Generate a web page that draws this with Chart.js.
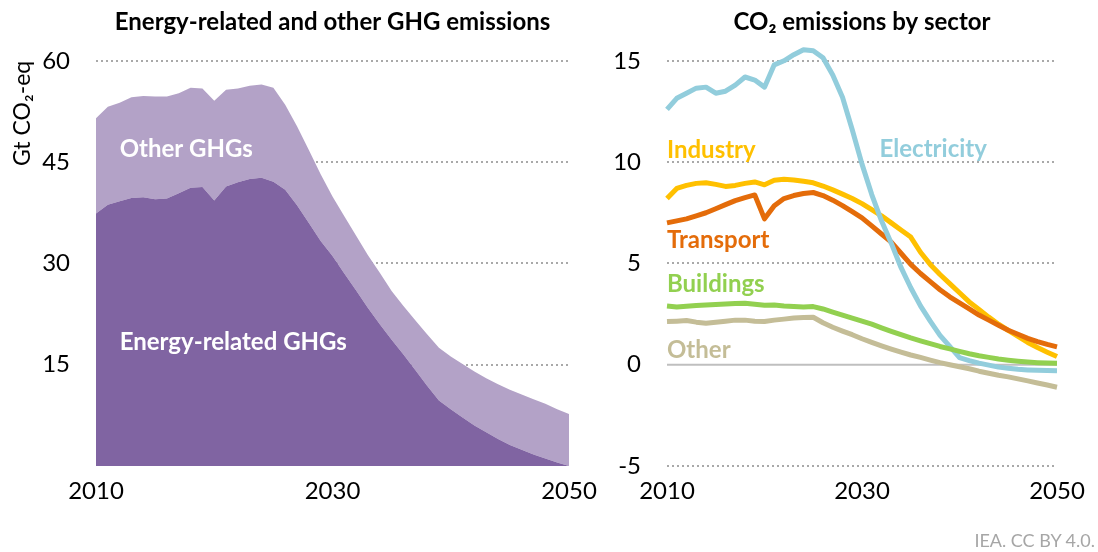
<!DOCTYPE html>
<html>
<head>
<meta charset="utf-8">
<script src="https://cdn.jsdelivr.net/npm/chart.js@4.4.1/dist/chart.umd.min.js"></script>
<style>
  html, body { margin: 0; padding: 0; background: #fff; }
  #wrap { position: relative; width: 1098px; height: 552px; overflow: hidden; }
  #left { position: absolute; left: 0; top: 0; width: 610px; height: 552px; }
  #right { position: absolute; left: 560px; top: 0; width: 538px; height: 552px; }
  #source { position: absolute; right: 3px; bottom: 1px; font: 18px Lato, sans-serif; color: #a6a6a6; }
</style>
</head>
<body>
<div id="wrap">
  <div id="left"><canvas id="ghg-chart"></canvas></div>
  <div id="right"><canvas id="sector-chart"></canvas></div>
  <div id="source">IEA. CC BY 4.0.</div>
</div>
<script>
var years = [2010, 2011, 2012, 2013, 2014, 2015, 2016, 2017, 2018, 2019,
  2020, 2021, 2022, 2023, 2024, 2025, 2026, 2027, 2028, 2029,
  2030, 2031, 2032, 2033, 2034, 2035, 2036, 2037, 2038, 2039,
  2040, 2041, 2042, 2043, 2044, 2045, 2046, 2047, 2048, 2049, 2050];

// left panel, Gt CO2-eq (stacked)
var energyGhg = [37.4, 38.7, 39.2, 39.7, 39.8, 39.5, 39.6, 40.4, 41.2, 41.3,
  39.3, 41.4, 42.0, 42.5, 42.7, 42.1, 40.9, 38.6, 36.0, 33.3,
  31.1, 28.5, 26.0, 23.4, 21.0, 18.7, 16.5, 14.2, 11.9, 9.7,
  8.4, 7.2, 6.0, 5.0, 4.0, 3.1, 2.4, 1.7, 1.1, 0.5, 0.0];
var otherGhg = [14.1, 14.5, 14.6, 14.9, 15.0, 15.2, 15.1, 14.8, 14.8, 14.6,
  14.8, 14.3, 13.9, 13.8, 13.8, 13.9, 12.6, 11.7, 10.8, 9.9,
  8.8, 8.5, 8.1, 7.8, 7.6, 7.2, 7.2, 7.4, 7.6, 7.8,
  7.8, 7.9, 8.0, 8.0, 8.1, 8.2, 8.2, 8.2, 8.1, 7.9, 7.7];

// right panel, Gt CO2
var electricity = [12.6, 13.15, 13.4, 13.65, 13.7, 13.4, 13.5, 13.8, 14.2, 14.05,
  13.7, 14.8, 15.0, 15.3, 15.55, 15.5, 15.15, 14.3, 13.2, 11.6,
  9.9, 8.4, 7.1, 6.0, 4.8, 3.8, 2.9, 2.15, 1.45, 0.9,
  0.35, 0.2, 0.08, -0.02, -0.12, -0.18, -0.23, -0.26, -0.28, -0.29, -0.3];
var industry = [8.2, 8.7, 8.85, 8.95, 8.98, 8.9, 8.8, 8.85, 8.95, 9.02,
  8.88, 9.1, 9.15, 9.12, 9.05, 8.98, 8.82, 8.63, 8.42, 8.2,
  7.95, 7.65, 7.35, 7.0, 6.65, 6.3, 5.55, 4.95, 4.45, 4.0,
  3.55, 3.1, 2.73, 2.35, 2.0, 1.7, 1.4, 1.1, 0.85, 0.62, 0.4];
var transport = [7.0, 7.1, 7.2, 7.35, 7.5, 7.7, 7.9, 8.1, 8.25, 8.38,
  7.2, 7.85, 8.2, 8.35, 8.45, 8.5, 8.35, 8.12, 7.85, 7.55,
  7.25, 6.85, 6.45, 6.05, 5.5, 4.95, 4.5, 4.1, 3.7, 3.35,
  3.05, 2.75, 2.45, 2.2, 1.95, 1.7, 1.5, 1.3, 1.14, 1.0, 0.88];
var buildings = [2.9, 2.85, 2.88, 2.92, 2.95, 2.97, 3.0, 3.02, 3.03, 2.98,
  2.93, 2.95, 2.9, 2.87, 2.85, 2.87, 2.75, 2.6, 2.45, 2.3,
  2.15, 2.0, 1.82, 1.65, 1.48, 1.32, 1.18, 1.04, 0.9, 0.78,
  0.66, 0.54, 0.44, 0.36, 0.28, 0.22, 0.17, 0.13, 0.1, 0.08, 0.07];
var otherSector = [2.13, 2.15, 2.18, 2.1, 2.05, 2.1, 2.15, 2.2, 2.2, 2.15,
  2.13, 2.2, 2.25, 2.3, 2.33, 2.34, 2.07, 1.85, 1.66, 1.48,
  1.28, 1.1, 0.93, 0.77, 0.62, 0.48, 0.36, 0.23, 0.1, 0.0,
  -0.1, -0.2, -0.32, -0.42, -0.52, -0.6, -0.7, -0.8, -0.9, -1.0, -1.11];

var xTicks = [2010, 2030, 2050];
var ghgTicks = [15, 30, 45, 60];
var sectorTicks = [-5, 0, 5, 10, 15];

Chart.defaults.font.family = "Lato, 'Open Sans', sans-serif";
Chart.defaults.color = "#000";

// labels written straight on the plot, placed in data units
var inlineLabels = {
  id: "inlineLabels",
  afterDatasetsDraw: function (chart, args, opts) {
    var ctx = chart.ctx;
    var xs = chart.scales.x;
    var ys = chart.scales.y;
    ctx.save();
    ctx.font = "bold 24px Lato, sans-serif";
    ctx.textAlign = "left";
    ctx.textBaseline = "alphabetic";
    opts.items.forEach(function (it) {
      ctx.fillStyle = it.color;
      ctx.fillText(it.text, xs.getPixelForValue(it.x), ys.getPixelForValue(it.y));
    });
    ctx.restore();
  },
};

var zeroLine = {
  id: "zeroLine",
  beforeDatasetsDraw: function (chart) {
    var a = chart.chartArea;
    var y = chart.scales.y.getPixelForValue(0);
    var ctx = chart.ctx;
    ctx.save();
    ctx.strokeStyle = "#bfbfbf";
    ctx.lineWidth = 2;
    ctx.beginPath();
    ctx.moveTo(a.left, y);
    ctx.lineTo(a.right, y);
    ctx.stroke();
    ctx.restore();
  },
};

function xAxis() {
  return {
    type: "linear",
    min: 2010,
    max: 2050,
    afterBuildTicks: function (s) {
      s.ticks = xTicks.map(function (v) { return { value: v }; });
    },
    afterFit: function (s) { s.height = 86; },
    grid: { display: false, drawTicks: false },
    border: { display: false },
    ticks: {
      font: { size: 24 },
      padding: 11,
      maxRotation: 0,
      callback: function (v) { return String(v); },
    },
  };
}

function yAxis(min, max, tickList, width, showZero) {
  return {
    min: min,
    max: max,
    afterBuildTicks: function (s) {
      s.ticks = tickList.map(function (v) { return { value: v }; });
    },
    afterFit: function (s) { s.width = width; },
    grid: {
      drawTicks: false,
      color: function (c) {
        return c.tick && c.tick.value === 0 ? "rgba(0,0,0,0)" : "#a9a9a9";
      },
      lineWidth: 2,
    },
    border: { display: false, dash: [2, 3] },
    ticks: {
      font: { size: 24 },
      padding: 26,
      callback: function (v) { return v === 0 && !showZero ? "" : String(v); },
    },
  };
}

function titleOpts(text) {
  return {
    display: true,
    text: text,
    fullSize: false,
    font: { size: 24, weight: "bold" },
    color: "#000",
    padding: { top: 8, bottom: 24 },
  };
}

var ghgY = yAxis(0, 60, ghgTicks, 96, false);
ghgY.stacked = true;
ghgY.title = {
  display: true,
  text: "Gt CO₂-eq",
  align: "end",
  font: { size: 23 },
  color: "#000",
  padding: { top: 9, bottom: 0 },
};

new Chart(document.getElementById("ghg-chart"), {
  type: "line",
  data: {
    labels: years,
    datasets: [
      {
        label: "Energy-related GHGs",
        data: energyGhg,
        backgroundColor: "#8064A2",
        borderWidth: 0,
        pointRadius: 0,
        fill: "origin",
      },
      {
        label: "Other GHGs",
        data: otherGhg,
        backgroundColor: "#B3A2C7",
        borderWidth: 0,
        pointRadius: 0,
        fill: "-1",
      },
    ],
  },
  options: {
    responsive: true,
    maintainAspectRatio: false,
    animation: false,
    layout: { padding: { left: 0, right: 41, top: 0, bottom: 0 } },
    scales: { x: xAxis(), y: ghgY },
    plugins: {
      legend: { display: false },
      tooltip: { enabled: false },
      title: titleOpts("Energy-related and other GHG emissions"),
      inlineLabels: {
        items: [
          { text: "Other GHGs", x: 2012, y: 45.8, color: "#fff" },
          { text: "Energy-related GHGs", x: 2012, y: 17.2, color: "#fff" },
        ],
      },
    },
  },
  plugins: [inlineLabels],
});

function sectorLine(label, data, color, order) {
  return {
    label: label,
    data: data,
    borderColor: color,
    backgroundColor: color,
    borderWidth: 5,
    borderJoinStyle: "round",
    pointRadius: 0,
    fill: false,
    clip: false,
    order: order,
  };
}

new Chart(document.getElementById("sector-chart"), {
  type: "line",
  data: {
    labels: years,
    datasets: [
      sectorLine("Electricity", electricity, "#92CDDC", 2),
      sectorLine("Industry", industry, "#FFC000", 4),
      sectorLine("Transport", transport, "#E46C0A", 3),
      sectorLine("Buildings", buildings, "#92D050", 1),
      sectorLine("Other", otherSector, "#C4BD97", 5),
    ],
  },
  options: {
    responsive: true,
    maintainAspectRatio: false,
    animation: false,
    layout: { padding: { left: 0, right: 41, top: 0, bottom: 0 } },
    scales: { x: xAxis(), y: yAxis(-5, 15, sectorTicks, 107, true) },
    plugins: {
      legend: { display: false },
      tooltip: { enabled: false },
      title: titleOpts("CO₂ emissions by sector"),
      inlineLabels: {
        items: [
          { text: "Industry", x: 2010, y: 10.2, color: "#FFC000" },
          { text: "Electricity", x: 2031.8, y: 10.26, color: "#92CDDC" },
          { text: "Transport", x: 2010, y: 5.77, color: "#E46C0A" },
          { text: "Buildings", x: 2010, y: 3.59, color: "#92D050" },
          { text: "Other", x: 2010, y: 0.33, color: "#C4BD97" },
        ],
      },
    },
  },
  plugins: [inlineLabels, zeroLine],
});
</script>
</body>
</html>
